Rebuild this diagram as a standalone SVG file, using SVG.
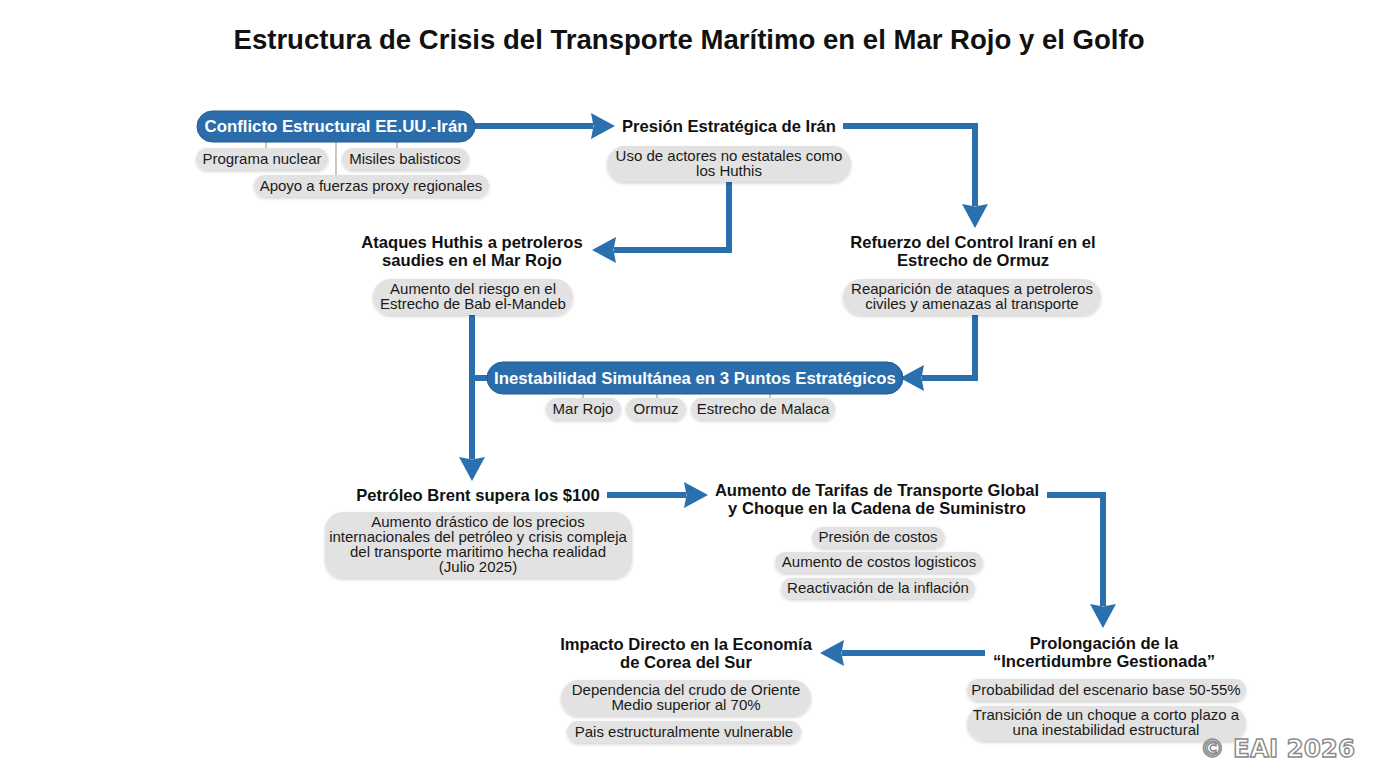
<svg xmlns="http://www.w3.org/2000/svg" width="1376" height="768" viewBox="0 0 1376 768">
<defs>
<style>
.title{font-family:"Liberation Sans",Arial,sans-serif;font-weight:bold;font-size:27px;fill:#111;text-anchor:middle}
.h{font-family:"Liberation Sans",Arial,sans-serif;font-weight:bold;font-size:16.6px;fill:#111;text-anchor:middle}
.hw{font-family:"Liberation Sans",Arial,sans-serif;font-weight:bold;font-size:16.8px;fill:#fff;text-anchor:middle}
.t{font-family:"Liberation Sans",Arial,sans-serif;font-size:15px;fill:#1a1a1a;text-anchor:middle}
.pill{fill:#e2e2e2;filter:url(#sh)}
.bpill{fill:#2b6dab;stroke:#1f5a92;stroke-width:1}
.conn{fill:none;stroke:#2a6fae;stroke-width:6;stroke-linejoin:miter}
.thin{fill:none;stroke:#c8c8c8;stroke-width:2}
.wm{font-family:"DejaVu Sans",Verdana,sans-serif;font-weight:bold;font-size:24px;fill:#fff;stroke:#8a8a8a;stroke-width:1.4;text-anchor:end}
</style>
<filter id="sh" x="-10%" y="-20%" width="120%" height="160%">
<feDropShadow dx="0" dy="1.5" stdDeviation="1.5" flood-color="#000" flood-opacity="0.18"/>
</filter>
<marker id="ah" viewBox="0 0 24 26" markerUnits="userSpaceOnUse" markerWidth="24" markerHeight="26" refX="2" refY="13" orient="auto">
<path d="M0,0 L24,13 L0,26 L2.5,13 z" fill="#2a6fae"/>
</marker>
</defs>
<rect width="1376" height="768" fill="#fff"/>
<text class="title" x="689" y="49" textLength="911" lengthAdjust="spacingAndGlyphs">Estructura de Crisis del Transporte Marítimo en el Mar Rojo y el Golfo</text>

<g id="connectors">
<path class="thin" d="M266,142V150M336,142V177M397,142V150"/>
<path class="thin" d="M583,394V400M657,394V400M770,394V400"/>
<path class="conn" d="M475,126H593" marker-end="url(#ah)"/>
<path class="conn" d="M843,126H975V206" marker-end="url(#ah)"/>
<path class="conn" d="M729,182V250H614" marker-end="url(#ah)"/>
<path class="conn" d="M975,315V378H922" marker-end="url(#ah)"/>
<path class="conn" d="M472,315V459" marker-end="url(#ah)"/>
<path class="conn" d="M472,378H490"/>
<path class="conn" d="M607,495H686" marker-end="url(#ah)"/>
<path class="conn" d="M1047,495H1103V606" marker-end="url(#ah)"/>
<path class="conn" d="M985,653H842" marker-end="url(#ah)"/>
</g>

<g id="n-conflicto">
<rect class="bpill" x="197" y="111" width="278" height="31" rx="15.5"/>
<text class="hw" x="336" y="132">Conflicto Estructural EE.UU.-Irán</text>
<rect class="pill" x="196" y="148" width="132" height="22" rx="11"/>
<text class="t" x="262" y="164">Programa nuclear</text>
<rect class="pill" x="342" y="148" width="127" height="22" rx="11"/>
<text class="t" x="405" y="164">Misiles balisticos</text>
<rect class="pill" x="254" y="175" width="235" height="22" rx="11"/>
<text class="t" x="371" y="191">Apoyo a fuerzas proxy regionales</text>
</g>

<g id="n-presion">
<text class="h" x="729" y="132">Presión Estratégica de Irán</text>
<rect class="pill" x="607" y="146" width="244" height="36" rx="18"/>
<text class="t" x="729" y="161">Uso de actores no estatales como</text>
<text class="t" x="729" y="176">los Huthis</text>
</g>

<g id="n-ataques">
<text class="h" x="472" y="248">Ataques Huthis a petroleros</text>
<text class="h" x="472" y="266">saudies en el Mar Rojo</text>
<rect class="pill" x="373" y="279" width="200" height="36" rx="18"/>
<text class="t" x="473" y="294">Aumento del riesgo en el</text>
<text class="t" x="473" y="309">Estrecho de Bab el-Mandeb</text>
</g>

<g id="n-refuerzo">
<text class="h" x="973" y="248">Refuerzo del Control Iraní en el</text>
<text class="h" x="973" y="266">Estrecho de Ormuz</text>
<rect class="pill" x="843" y="279" width="258" height="36" rx="18"/>
<text class="t" x="972" y="294">Reaparición de ataques a petroleros</text>
<text class="t" x="972" y="309">civiles y amenazas al transporte</text>
</g>

<g id="n-inestabilidad">
<rect class="bpill" x="487" y="362" width="416" height="32" rx="16"/>
<text class="hw" x="695" y="384">Inestabilidad Simultánea en 3 Puntos Estratégicos</text>
<rect class="pill" x="546" y="398" width="75" height="22" rx="11"/>
<text class="t" x="583" y="414">Mar Rojo</text>
<rect class="pill" x="626" y="398" width="60" height="22" rx="11"/>
<text class="t" x="656" y="414">Ormuz</text>
<rect class="pill" x="691" y="398" width="144" height="22" rx="11"/>
<text class="t" x="763" y="414">Estrecho de Malaca</text>
</g>

<g id="n-brent">
<text class="h" x="478" y="501">Petróleo Brent supera los $100</text>
<rect class="pill" x="325" y="512" width="307" height="66" rx="18"/>
<text class="t" x="478" y="527">Aumento drástico de los precios</text>
<text class="t" x="478" y="542">internacionales del petróleo y crisis compleja</text>
<text class="t" x="478" y="557">del transporte maritimo hecha realidad</text>
<text class="t" x="478" y="572">(Julio 2025)</text>
</g>

<g id="n-tarifas">
<text class="h" x="877" y="496">Aumento de Tarifas de Transporte Global</text>
<text class="h" x="877" y="514">y Choque en la Cadena de Suministro</text>
<rect class="pill" x="812" y="527" width="133" height="21" rx="10.5"/>
<text class="t" x="878" y="542">Presión de costos</text>
<rect class="pill" x="775" y="552" width="208" height="21" rx="10.5"/>
<text class="t" x="879" y="567">Aumento de costos logisticos</text>
<rect class="pill" x="781" y="578" width="194" height="21" rx="10.5"/>
<text class="t" x="878" y="593">Reactivación de la inflación</text>
</g>

<g id="n-prolongacion">
<text class="h" x="1104" y="649">Prolongación de la</text>
<text class="h" x="1104" y="667">“Incertidumbre Gestionada”</text>
<rect class="pill" x="967" y="679" width="279" height="22" rx="11"/>
<text class="t" x="1106" y="695">Probabilidad del escenario base 50-55%</text>
<rect class="pill" x="967" y="706" width="279" height="35" rx="17.5"/>
<text class="t" x="1106" y="720">Transición de un choque a corto plazo a</text>
<text class="t" x="1106" y="735">una inestabilidad estructural</text>
</g>

<g id="n-impacto">
<text class="h" x="686" y="650">Impacto Directo en la Economía</text>
<text class="h" x="686" y="668">de Corea del Sur</text>
<rect class="pill" x="561" y="680" width="250" height="36" rx="18"/>
<text class="t" x="686" y="695">Dependencia del crudo de Oriente</text>
<text class="t" x="686" y="710">Medio superior al 70%</text>
<rect class="pill" x="567" y="721" width="234" height="22" rx="11"/>
<text class="t" x="684" y="737">Pais estructuralmente vulnerable</text>
</g>

<text class="wm" x="1355" y="757" textLength="155" lengthAdjust="spacingAndGlyphs">© EAI 2026</text>
</svg>
